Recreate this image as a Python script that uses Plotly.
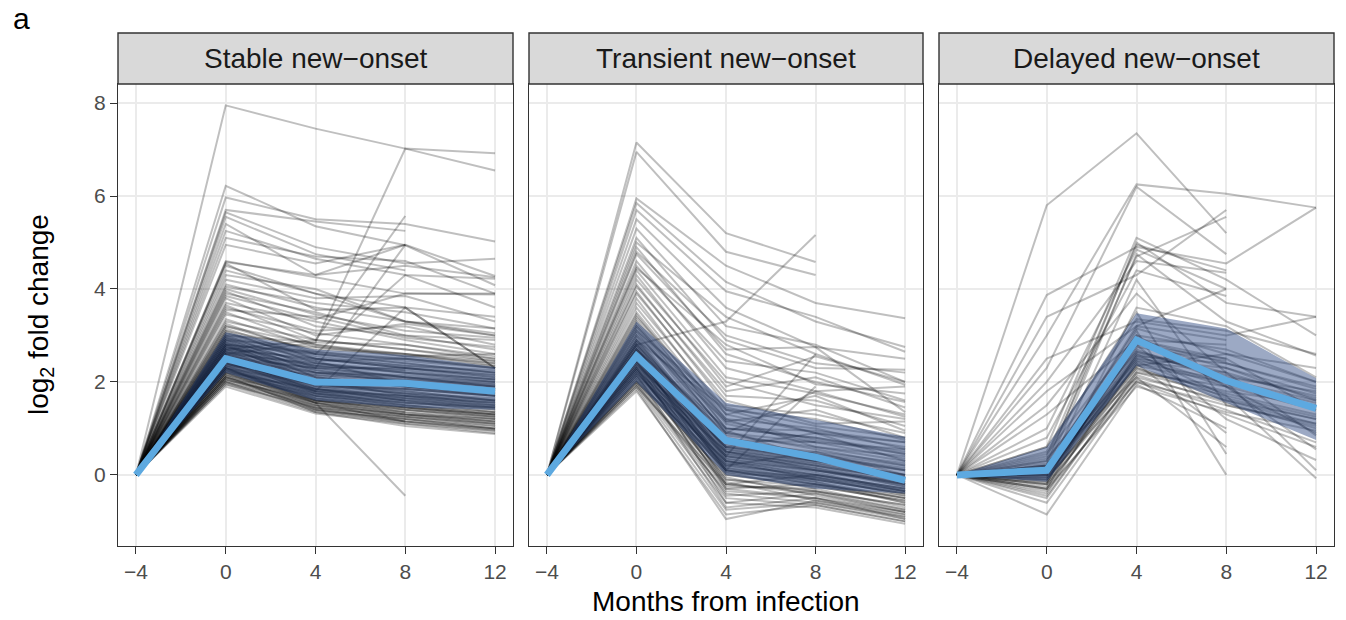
import plotly.graph_objects as go

# ---------------- data ----------------
MONTHS = [-4, 0, 4, 8, 12]
MONTH_LABELS = ["−4", "0", "4", "8", "12"]
BASELINE = 0.0  # log2 fold change at month -4 (reference)
PANEL_TITLES = ["Stable new−onset", "Transient new−onset", "Delayed new−onset"]
Y_TICKS = [0, 2, 4, 6, 8]

# individual trajectories: values at months 0, 4, 8, 12 (None = missing)
stable_lines = [
    [7.95, 7.45, 7.02, 6.55], [2.6, 2.85, 7.02, 6.92], [6.22, 5.35, 4.94, 4.08],
    [5.97, 5.5, 5.4, 5.02], [5.7, 5.45, 5.25, None], [5.65, 4.9, 4.55, 4.65],
    [5.55, 4.75, 4.4, None], [2.7, 2.9, 5.57, None], [5.4, 4.3, 4.95, None],
    [5.25, 4.65, 4.3, 4.22], [5.1, 4.7, 4.6, 3.9], [4.95, 4.55, 4.95, 4.28],
    [4.6, 4.25, 3.9, 3.88], [4.58, 4.3, 4.5, 4.25], [4.55, 3.55, 3.6, 2.3],
    [4.4, 3.9, 3.6, 3.4], [4.3, 4.0, 3.3, 3.15], [4.2, 3.8, 3.85, 3.3],
    [4.1, 3.6, 3.3, 3.05], [4.05, 3.7, 3.5, 3.15], [4.0, 3.45, 3.1, 2.95],
    [3.95, 3.2, 3.0, 2.7], [3.85, 3.35, 3.9, 3.9], [3.8, 3.0, 3.25, 3.0],
    [3.7, 3.3, 2.9, 2.6], [3.65, 2.9, 2.7, 2.45], [3.6, 3.1, 3.2, 2.8],
    [3.55, 3.4, 2.95, 2.75], [3.5, 2.8, 2.6, 2.35], [3.45, 3.05, 2.8, 2.5],
    [2.3, 1.55, -0.45, None], [2.5, 2.3, 4.95, None], [2.8, 2.6, 4.3, 3.6],
    [2.4, 1.8, 3.6, 2.3], [4.5, 3.9, 3.3, 3.0], [3.9, 3.5, 3.0, 2.9],
    [3.3, 2.9, 2.7, 2.5], [3.25, 2.6, 2.5, 2.3], [3.2, 2.8, 2.55, 2.6],
    [3.15, 2.5, 2.3, 2.1], [3.1, 2.7, 2.6, 2.4], [3.1, 2.4, 2.2, 2.0],
    [3.05, 2.6, 2.4, 2.2], [3.0, 2.3, 2.1, 1.9], [3.0, 2.55, 2.35, 2.25],
    [2.95, 2.2, 2.0, 1.8], [2.95, 2.45, 2.5, 2.3], [2.9, 2.35, 2.1, 2.0],
    [2.9, 2.1, 1.9, 1.7], [2.85, 2.4, 2.25, 2.05], [2.85, 2.0, 1.8, 1.6],
    [2.8, 2.3, 2.3, 2.15], [2.8, 1.95, 1.75, 1.5], [2.75, 2.25, 2.0, 1.85],
    [2.75, 2.05, 1.7, 1.45], [2.7, 2.15, 2.05, 1.95], [2.7, 1.9, 1.65, 1.4],
    [2.65, 2.2, 2.15, 2.0], [2.65, 1.85, 1.6, 1.35], [2.6, 2.1, 1.9, 1.75],
    [2.6, 1.8, 1.5, 1.3], [2.55, 2.0, 2.0, 1.9], [2.55, 1.75, 1.45, 1.25],
    [2.5, 1.95, 1.8, 1.6], [2.5, 1.7, 1.4, 1.2], [2.45, 1.9, 1.85, 1.7],
    [2.45, 1.65, 1.35, 1.15], [2.4, 1.85, 1.7, 1.55], [2.4, 1.6, 1.3, 1.1],
    [2.35, 1.8, 1.65, 1.5], [2.35, 1.55, 1.25, 1.05], [2.3, 1.75, 1.55, 1.4],
    [2.3, 1.5, 1.2, 1.0], [2.25, 1.7, 1.5, 1.35], [2.25, 1.45, 1.15, 0.95],
    [2.2, 1.65, 1.45, 1.3], [2.2, 1.4, 1.1, 0.9], [2.15, 1.6, 1.4, 1.25],
    [2.15, 1.35, 1.05, 0.88], [2.1, 1.55, 1.35, 1.2], [2.1, 1.5, 1.3, 1.15],
    [2.05, 1.45, 1.25, 1.1], [2.0, 1.4, 1.2, 1.05], [1.95, 1.35, 1.15, 1.0],
    [1.9, 1.32, 1.1, 0.95], [2.6, 2.4, 2.2, 2.05], [2.7, 2.5, 2.35, 2.2],
    [2.8, 2.65, 2.45, 2.3], [2.9, 2.75, 2.6, 2.45], [3.0, 2.85, 2.8, 2.55],
    [2.5, 2.2, 2.0, 1.85], [2.4, 2.05, 1.9, 1.75], [2.3, 1.95, 1.75, 1.65],
    [2.2, 1.85, 1.65, 1.55], [2.35, 2.15, 1.95, 1.8], [2.55, 2.3, 2.1, 1.95],
    [2.65, 2.35, 2.25, None], [2.45, 1.85, 1.6, None], [2.25, 1.6, 1.35, None],
    [2.05, 1.55, 1.15, None], [2.75, 2.45, 1.95, None],
    [2.0, 1.5, 1.3, 1.2], [1.95, 1.45, 1.25, 1.1], [2.05, 1.6, 1.45, 1.3],
    [2.1, 1.7, 1.55, 1.45], [2.15, 1.75, 1.6, 1.5], [2.2, 1.55, 1.3, 1.15],
    [2.25, 1.8, 1.7, 1.6], [2.3, 1.65, 1.45, 1.3], [2.35, 1.7, 1.5, 1.35],
    [2.4, 1.95, 1.85, 1.7], [2.45, 1.75, 1.55, 1.45], [2.5, 1.85, 1.7, 1.55],
    [2.55, 1.9, 1.75, 1.6], [2.6, 2.0, 1.85, 1.7], [2.65, 2.05, 1.95, 1.8],
    [2.7, 2.2, 2.1, 1.9], [2.75, 2.35, 2.2, 2.05], [2.8, 2.1, 1.9, 1.75],
    [2.85, 2.25, 2.05, 1.9], [2.9, 2.5, 2.3, 2.15], [2.95, 2.6, 2.4, 2.2],
    [3.05, 2.5, 2.3, 2.1], [3.2, 2.65, 2.5, 2.35], [3.35, 2.75, 2.55, 2.4],
    [2.0, 1.38, 1.2, 1.0], [2.1, 1.42, 1.15, 0.98], [2.3, 1.6, 1.4, 1.25],
    [2.5, 1.8, 1.6, 1.45],
]

transient_lines = [
    [7.15, 5.2, 4.58, None], [6.95, 4.8, 4.3, None], [5.95, 4.5, 3.7, 3.37],
    [5.85, 4.15, 3.3, 2.75], [5.7, 3.95, 3.4, 2.65], [2.8, 3.3, 5.16, None],
    [5.5, 3.6, 2.75, 2.5], [5.3, 3.2, 2.8, 2.0], [5.1, 2.9, 2.3, 2.26],
    [5.0, 3.4, 2.6, 1.94], [4.9, 2.6, 2.0, 1.57], [4.75, 2.7, 2.75, 1.35],
    [4.6, 2.3, 1.8, 1.9], [4.5, 2.45, 2.2, 1.6], [4.4, 2.1, 1.75, 1.3],
    [4.3, 1.9, 2.55, 2.0], [4.2, 2.0, 1.5, 1.2], [4.1, 1.7, 1.6, 1.05],
    [4.05, 1.8, 2.1, 1.45], [3.95, 1.5, 1.3, 0.9], [3.9, 1.6, 1.1, 1.15],
    [3.8, 1.3, 1.7, 0.95], [3.7, 1.4, 0.9, 0.7], [3.6, 1.2, 1.0, 0.55],
    [3.5, 1.15, 1.4, 0.8], [3.45, 1.0, 0.8, 0.45], [2.5, 0.1, 1.9, None],
    [2.6, 0.4, 2.6, None], [2.7, 0.9, 1.8, 1.25], [4.8, 3.0, 2.4, 2.2],
    [4.45, 2.8, 1.95, 1.75],
    [3.4, 1.3, 0.9, 0.6], [3.35, 1.1, 0.7, 0.35], [3.3, 1.0, 0.8, 0.5],
    [3.25, 0.9, 0.55, 0.2], [3.2, 1.2, 0.6, 0.3], [3.15, 0.8, 0.45, 0.1],
    [3.1, 0.7, 0.5, 0.25], [3.05, 0.95, 0.35, 0.0], [3.0, 0.6, 0.3, -0.05],
    [2.95, 0.5, 0.2, -0.1], [2.9, 0.75, 0.4, 0.15], [2.85, 0.4, 0.1, -0.2],
    [2.8, 0.55, 0.25, -0.15], [2.75, 0.3, 0.0, -0.3], [2.7, 0.45, 0.15, -0.25],
    [2.65, 0.2, -0.1, -0.4], [2.6, 0.35, 0.05, -0.35], [2.55, 0.1, -0.2, -0.5],
    [2.5, 0.25, -0.05, -0.45], [2.45, 0.0, -0.25, -0.55], [2.4, 0.15, -0.15, -0.6],
    [2.35, -0.1, -0.35, -0.65], [2.3, 0.05, -0.3, -0.7], [2.25, -0.2, -0.4, -0.75],
    [2.2, -0.05, -0.45, -0.8], [2.15, -0.3, -0.5, -0.85], [2.1, -0.15, -0.55, -0.9],
    [2.05, -0.4, -0.6, -0.95], [2.0, -0.5, -0.65, -1.0], [1.95, -0.6, -0.7, -1.05],
    [1.9, -0.75, -0.6, -0.9], [1.85, -0.95, -0.55, -0.85], [1.8, -0.85, -0.65, -1.0],
    [2.6, 0.6, 0.35, 0.1], [2.8, 0.85, 0.6, 0.4], [3.0, 1.15, 0.75, 0.45],
    [2.4, 0.4, 0.2, -0.2], [2.2, 0.3, -0.1, -0.4], [2.5, -0.3, -0.2, -0.6],
    [2.3, -0.45, -0.35, -0.75], [2.7, 1.0, 0.95, 0.7], [2.9, 1.4, 1.2, 0.75],
    [3.1, 1.45, 1.05, 0.8], [2.55, 0.75, 0.7, 0.55], [2.35, 0.6, 0.9, 0.3],
    [2.65, -0.2, 0.0, -0.3], [2.45, -0.6, -0.4, -0.8], [2.15, -0.7, -0.5, -0.95],
    [2.0, 0.2, 0.5, 0.0], [2.25, 0.5, 0.1, -0.15], [2.85, 0.65, 0.3, None],
    [2.55, 0.05, -0.1, None], [2.3, -0.25, -0.3, None], [3.2, 0.9, 0.7, None],
    [2.0, 0.0, -0.2, -0.5], [2.1, 0.3, 0.0, -0.3], [2.2, 0.1, -0.2, -0.45],
    [2.3, 0.2, 0.0, -0.35], [2.4, 0.5, 0.3, 0.0], [2.45, 0.3, 0.1, -0.2],
    [2.5, 0.45, 0.25, -0.05], [2.55, 0.6, 0.4, 0.1], [2.6, 0.15, -0.1, -0.4],
    [2.65, 0.5, 0.2, -0.1], [2.7, 0.7, 0.45, 0.2], [2.75, 0.1, -0.05, -0.35],
    [2.8, 0.35, 0.1, -0.25], [2.9, 0.55, 0.3, 0.0], [1.9, -0.2, -0.35, -0.65],
    [1.95, -0.35, -0.5, -0.8], [2.05, 0.1, -0.15, -0.5], [2.15, 0.4, 0.15, -0.2],
    [2.35, 0.25, -0.05, -0.35], [2.25, -0.1, -0.25, -0.55],
]

delayed_lines = [
    [5.8, 7.35, 5.2, None], [3.0, 6.25, 6.05, 5.75], [2.3, 6.2, 4.75, None],
    [3.87, 4.9, 4.55, 5.75], [3.4, 4.3, 5.7, None], [0.3, 4.7, 5.55, None],
    [0.6, 5.1, 4.2, 3.0], [0.2, 5.0, 3.7, 3.4], [0.4, 4.95, 4.4, None],
    [1.0, 4.85, 4.0, None], [0.1, 4.75, 3.3, 2.57], [2.0, 4.6, 4.35, None],
    [0.8, 4.4, 3.85, None], [0.0, 4.2, 1.5, 1.1], [1.5, 3.9, 2.2, 0.85],
    [-0.2, 3.6, 3.2, 2.1], [0.5, 3.5, 0.45, None], [2.5, 3.3, 3.0, 3.4],
    [0.15, 3.2, 2.9, None], [-0.3, 3.1, 0.0, None], [0.05, 3.0, 1.9, 0.55],
    [0.3, 2.9, 2.5, 1.4], [-0.1, 2.8, 1.2, 0.32], [0.2, 2.7, 2.0, 0.1],
    [-0.4, 2.6, 1.7, -0.07], [0.1, 2.5, 2.3, 1.6], [-0.2, 2.4, 0.9, None],
    [0.0, 2.3, 1.6, 1.2], [-0.5, 2.2, 1.9, 0.9], [0.25, 2.1, 0.6, None],
    [-0.35, 2.0, 1.3, 0.6], [-0.85, 1.95, 1.0, None], [0.35, 2.65, 2.1, 1.8],
    [-0.15, 2.55, 2.4, 1.9], [0.05, 2.35, 2.6, 2.3], [-0.25, 2.25, 1.8, 1.5],
    [0.45, 3.0, 2.7, 2.0], [0.6, 3.35, 3.1, 2.6], [-0.45, 2.15, 1.55, 1.0],
    [-0.6, 2.05, 1.4, 0.7], [0.15, 2.45, 2.2, None], [-0.05, 2.75, 2.45, None],
    [0.0, 2.6, 2.15, 1.7], [1.3, 2.9, 2.8, None], [1.8, 3.2, 4.0, None],
    [-0.1, 2.3, 1.75, 1.3], [0.1, 2.55, 1.95, 1.45], [-0.3, 2.4, 2.05, 1.6],
    [0.2, 2.85, 2.3, 1.75], [-0.05, 2.45, 1.65, 1.2],
    [0.0, 2.5, 1.9, 1.4], [-0.1, 2.2, 1.7, 1.25], [0.1, 2.35, 2.0, 1.55],
    [-0.2, 2.1, 1.6, 1.1], [0.05, 2.65, 2.2, 1.65], [-0.15, 2.9, 2.4, 1.85],
    [0.15, 3.15, 2.6, 2.0], [-0.05, 2.0, 1.5, 1.05], [-0.3, 1.9, 1.35, 0.95],
    [0.2, 2.8, 2.5, None],
]

# group mean and ribbon at months -4, 0, 4, 8, 12
stable_mean = [0.0, 2.5, 2.0, 1.97, 1.8]
stable_lower = [0.0, 2.2, 1.6, 1.45, 1.4]
stable_upper = [0.0, 3.07, 2.7, 2.58, 2.32]

transient_mean = [0.0, 2.56, 0.74, 0.38, -0.12]
transient_lower = [0.0, 2.0, 0.0, -0.3, -0.4]
transient_upper = [0.0, 3.3, 1.55, 1.18, 0.82]

delayed_mean = [0.0, 0.1, 2.9, 2.03, 1.43]
delayed_lower = [0.0, -0.15, 2.35, 1.55, 0.75]
delayed_upper = [0.0, 0.6, 3.48, 3.15, 2.08]

# ---------------- figure ----------------
W, H = 1346, 620
PANEL_X = [(118, 513), (529, 923), (939, 1334)]
PLOT_TOP, PLOT_BOTTOM = 84, 546
STRIP_TOP = 33
FONT = "Liberation Sans, Arial, Helvetica"

LINE_COLOR = "rgba(0,0,0,0.25)"
RIBBON_COLOR = "rgba(35,65,125,0.45)"
MEAN_COLOR = "#5DA9E0"

panels = [
    (stable_lines, stable_mean, stable_lower, stable_upper),
    (transient_lines, transient_mean, transient_lower, transient_upper),
    (delayed_lines, delayed_mean, delayed_lower, delayed_upper),
]

fig = go.Figure()

for i, (lines, mean, lower, upper) in enumerate(panels):
    xa = "x" if i == 0 else f"x{i + 1}"
    ya = "y" if i == 0 else f"y{i + 1}"
    for vals in lines:
        fig.add_trace(go.Scatter(
            x=MONTHS, y=[BASELINE] + list(vals), mode="lines",
            line=dict(color=LINE_COLOR, width=2),
            hoverinfo="skip", showlegend=False, xaxis=xa, yaxis=ya,
        ))
    fig.add_trace(go.Scatter(
        x=MONTHS + MONTHS[::-1], y=upper + lower[::-1], mode="lines",
        fill="toself", fillcolor=RIBBON_COLOR, line=dict(width=0),
        hoverinfo="skip", showlegend=False, xaxis=xa, yaxis=ya,
    ))
    fig.add_trace(go.Scatter(
        x=MONTHS, y=mean, mode="lines",
        line=dict(color=MEAN_COLOR, width=7),
        hoverinfo="skip", showlegend=False, xaxis=xa, yaxis=ya,
    ))

y_dom = [(H - PLOT_BOTTOM) / H, (H - PLOT_TOP) / H]
axis_common = dict(
    showgrid=True, gridcolor="#ebebeb", gridwidth=1.5, zeroline=False,
    showline=True, mirror=True, linecolor="#333333", linewidth=1.4,
    tickcolor="#333333", tickwidth=1.4, ticklen=7,
    tickfont=dict(family=FONT, size=21, color="#4d4d4d"),
)

layout_axes = {}
shapes = []
annotations = []
for i, (x0, x1) in enumerate(PANEL_X):
    suffix = "" if i == 0 else str(i + 1)
    layout_axes[f"xaxis{suffix}"] = dict(
        axis_common, domain=[x0 / W, x1 / W], range=[-4.8, 12.8],
        tickmode="array", tickvals=MONTHS, ticktext=MONTH_LABELS,
        ticks="outside", anchor=f"y{suffix}",
    )
    layout_axes[f"yaxis{suffix}"] = dict(
        axis_common, domain=y_dom, range=[-1.53, 8.41],
        tickmode="array", tickvals=Y_TICKS, ticktext=[str(v) for v in Y_TICKS],
        ticks="outside" if i == 0 else "", showticklabels=(i == 0),
        anchor=f"x{suffix}",
    )
    # facet strip
    shapes.append(dict(
        type="rect", xref="paper", yref="paper",
        x0=x0 / W, x1=x1 / W, y0=(H - PLOT_TOP) / H, y1=(H - STRIP_TOP) / H,
        fillcolor="#d9d9d9", line=dict(color="#333333", width=1.4), layer="above",
    ))
    annotations.append(dict(
        text=PANEL_TITLES[i], xref="paper", yref="paper",
        x=(x0 + x1) / 2 / W, y=(H - (PLOT_TOP + STRIP_TOP) / 2) / H,
        xanchor="center", yanchor="middle", showarrow=False,
        font=dict(family=FONT, size=28, color="#1a1a1a"),
    ))

annotations += [
    dict(text="Months from infection", xref="paper", yref="paper",
         x=726 / W, y=(H - 601) / H, xanchor="center", yanchor="middle",
         showarrow=False, font=dict(family=FONT, size=28, color="#000000")),
    dict(text="log<sub>2</sub> fold change", xref="paper", yref="paper",
         x=40 / W, y=(H - 315) / H, xanchor="center", yanchor="middle",
         textangle=-90, showarrow=False,
         font=dict(family=FONT, size=28, color="#000000")),
    dict(text="a", xref="paper", yref="paper", x=21 / W, y=(H - 19) / H,
         xanchor="center", yanchor="middle", showarrow=False,
         font=dict(family=FONT, size=30, color="#000000")),
]

fig.update_layout(
    width=W, height=H, margin=dict(l=0, r=0, t=0, b=0),
    paper_bgcolor="white", plot_bgcolor="white",
    shapes=shapes, annotations=annotations, showlegend=False,
    **layout_axes,
)

fig.write_html("out.html")
